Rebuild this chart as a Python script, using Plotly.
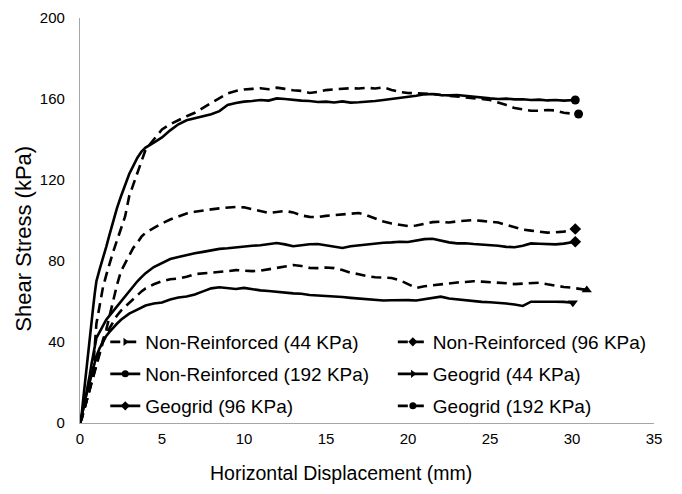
import plotly.graph_objects as go

# ---------------- data ----------------
x_grid = [0, 0.1, 0.2, 0.3, 0.4, 0.5, 0.6, 0.7, 0.8, 0.9, 1.0, 1.2, 1.4, 1.6, 1.8, 2.0,
          2.25, 2.5, 2.75, 3.0, 3.25, 3.5, 3.75, 4.0, 4.5, 5.0, 5.5, 6.0, 6.5, 7.0, 7.5,
          8.0, 8.5, 9.0, 9.5, 10.0, 10.5, 11.0, 11.5, 12.0, 12.5, 13.0, 13.5, 14.0, 14.5,
          15.0, 15.5, 16.0, 16.5, 17.0, 17.5, 18.0, 18.5, 19.0, 19.5, 20.0, 20.5, 21.0,
          21.5, 22.0, 22.5, 23.0, 23.5, 24.0, 24.5, 25.0, 25.5, 26.0, 26.5, 27.0, 27.5,
          28.0, 28.5, 29.0, 29.5, 30.0]

labels = ["Non-Reinforced (44 KPa)", "Non-Reinforced (96 KPa)", "Non-Reinforced (192 KPa)",
          "Geogrid (44 KPa)", "Geogrid (96 KPa)", "Geogrid (192 KPa)"]

x_title = "Horizontal Displacement (mm)"
y_title = "Shear Stress (kPa)"

end_x = [30.9, 30.2, 30.2, 30.05, 30.2, 30.4]

nr44 = [0, 2, 5, 8, 11, 14, 17, 20, 23, 26, 29, 35, 40, 44, 47, 50,
        53, 55.5, 57.5, 59.5, 61.5, 63.5, 65, 66.5, 68.5, 70, 71, 71.3, 72.2, 73.5, 73.8,
        74.2, 74.5, 75, 75.5, 75.3, 75, 75.2, 75.8, 76.5, 77.3, 78, 77.5, 76.6, 76.5,
        76.8, 76.5, 75.5, 74.2, 73.5, 72.5, 72, 71.8, 71.6, 70.5, 68.5, 66.7, 67.5,
        68, 68.7, 69, 69.4, 69.6, 70, 69.8, 69.6, 69.3, 69, 68.6, 68.8, 69.2,
        69.3, 68.5, 67.8, 67.2, 66.8, 65.7]

nr96 = [0, 2, 5, 8, 11, 14, 17, 20, 24, 27, 30, 36, 41, 46, 53, 60,
        68, 75, 79, 83, 86.5, 89, 92, 94, 96.5, 98.6, 100.5, 102, 103.5, 104.3, 105,
        105.5, 106, 106.3, 106.7, 106.5, 105.5, 104.5, 103.7, 104.2, 104.7, 104, 102.5, 101.8, 101.7,
        102.3, 102.7, 103, 103.5, 103.7, 102.5, 101, 99.5, 98.5, 97.8, 97.3, 97.5, 98.5,
        99.2, 99.4, 99, 99.6, 100, 100.2, 99.8, 99.4, 99, 97.8, 96.5, 95.5, 95,
        94.5, 94, 94.2, 94.5, 95.2, 95.8]

nr192 = [0, 4, 12, 20, 28, 35, 42, 50, 57, 64, 70, 76, 81, 87, 93, 99,
         106, 112, 118, 123, 127, 131, 134, 136, 138.5, 141, 144.5, 147.5, 149.5, 150.5, 151.5,
         152.5, 154, 157, 158, 158.7, 159, 159.5, 159.2, 160.3, 160, 159.5, 159.2, 159, 158.5,
         158.7, 158.3, 158.8, 158.2, 158.4, 158.6, 159, 159.5, 160, 160.3, 161, 161.6, 162.3,
         162.5, 162, 161.8, 162, 161.5, 161, 160.5, 160.3, 160, 160.2, 159.8, 159.9, 159.5,
         159.7, 159.3, 159.5, 159.2, 159.4, 159.5]

gg44 = [0, 3, 7, 11, 14, 18, 21, 24, 27, 30, 33, 37, 40, 43, 45, 47,
        49, 51, 52.5, 54, 55, 56, 57, 58, 59, 59.5, 61, 62, 62.5, 63.5, 65,
        66.5, 67, 66.5, 66.2, 66.7, 66, 65.5, 65.2, 64.7, 64.5, 64, 63.8, 63.2, 63,
        62.8, 62.5, 62.2, 61.8, 61.5, 61.2, 60.7, 60.5, 60.6, 60.7, 60.7, 60.5, 61.2,
        61.8, 62.4, 61.5, 61, 60.5, 60.2, 59.8, 59.6, 59.4, 59, 58.5, 57.8, 59.9,
        60, 60, 59.9, 59.8, 59.5, 59.4]

gg96 = [0, 3, 7, 11, 15, 19, 24, 29, 34, 39, 42, 45, 48, 51, 53, 55,
        58, 60.5, 62.5, 65, 68, 70, 72, 74, 77, 79, 81, 82, 83, 83.8, 84.5,
        85.4, 86, 86.3, 86.8, 87, 87.5, 87.8, 88.2, 88.9, 88.2, 87.3, 87.8, 88.3, 88.4,
        87.8, 87, 86.4, 87.3, 87.8, 88.2, 88.7, 89, 89.2, 89.5, 89.4, 90.2, 90.8,
        91, 90, 89.2, 88.7, 88.8, 88.4, 88.2, 88, 87.5, 87, 86.8, 87.5, 88.7,
        88.5, 88.4, 88.2, 88.6, 89.2, 89.5]

gg192 = [0, 2, 5, 8, 10, 13, 17, 21, 27, 38, 49, 58, 67, 73, 79, 84,
         90, 96, 102, 112, 118, 124, 130, 135, 140, 145, 147.5, 149.6, 151.5, 153.2, 155.5,
         158, 160.5, 162.8, 164, 164.7, 165, 165.3, 164.8, 165.6, 165, 164.3, 164, 163, 163.5,
         164.4, 164.8, 165.2, 165.3, 165.2, 165.5, 165.2, 165.7, 164.5, 163.5, 163, 162.8, 162.8,
         162.5, 162, 161.6, 161.5, 161, 160.5, 160, 159.5, 158.3, 157, 155.5, 154.9, 154.2,
         154.2, 154.6, 154.3, 153.2, 152.8, 152.6]

series = [nr44, nr96, nr192, gg44, gg96, gg192]
dashes = ["10px,6px", "10px,6px", "solid", "solid", "solid", "10px,6px"]
end_symbols = ["triangle-up", "diamond", "circle", "triangle-down", "diamond", "circle"]
legend_symbols = ["triangle-right", "diamond", "circle", "triangle-right", "diamond", "circle"]

FONT = "Liberation Sans, Arial, sans-serif"

fig = go.Figure()

for i, ys in enumerate(series):
    xs = x_grid + [end_x[i]]
    fig.add_trace(go.Scatter(
        x=xs, y=ys, mode="lines", showlegend=False,
        line=dict(color="black", width=2.6, dash=dashes[i]),
        hoverinfo="skip"))
    fig.add_trace(go.Scatter(
        x=[xs[-1]], y=[ys[-1]], mode="markers", showlegend=False,
        marker=dict(symbol=end_symbols[i], size=9, color="black"),
        hoverinfo="skip"))

# legend entries: two columns, three rows (row-major order)
legend_names = ["legend", "legend2", "legend3", "legend4", "legend5", "legend6"]
for i in range(6):
    fig.add_trace(go.Scatter(
        x=[None], y=[None], mode="lines+markers", name=labels[i],
        legend=legend_names[i],
        line=dict(color="black", width=2.6, dash=dashes[i]),
        marker=dict(symbol=legend_symbols[i], size=7, color="black")))

row_y = [0.2, 0.121, 0.042]
col_x = [0.044, 0.545]
legend_layout = {}
for i in range(6):
    r, c = divmod(i, 2)
    legend_layout[legend_names[i]] = dict(
        x=col_x[c], y=row_y[r], xanchor="left", yanchor="middle",
        bgcolor="rgba(0,0,0,0)", borderwidth=0,
        font=dict(family=FONT, size=19, color="black"))

# the page body adds an 8 px offset, so margins are reduced accordingly
fig.update_layout(
    width=682, height=494,
    margin=dict(l=72, r=36, t=10, b=79),
    paper_bgcolor="white", plot_bgcolor="white",
    font=dict(family=FONT, color="black"),
    **legend_layout,
    annotations=[
        dict(text=x_title, xref="paper", yref="paper", x=0.4547, y=-0.123,
             xanchor="center", yanchor="middle", showarrow=False,
             font=dict(family=FONT, size=19.5, color="black")),
        dict(text=y_title, xref="paper", yref="paper", x=-0.0976, y=0.455,
             xanchor="center", yanchor="middle", showarrow=False, textangle=-90,
             font=dict(family=FONT, size=22, color="black")),
    ],
)

fig.update_xaxes(
    range=[0, 35], dtick=5, tick0=0, showgrid=False, zeroline=False,
    showline=True, linecolor="#a6a6a6", linewidth=1.3,
    ticks="", ticklabelstandoff=2, automargin=False,
    tickfont=dict(family=FONT, size=15, color="black"))

fig.update_yaxes(
    range=[0, 200], dtick=40, tick0=0, showgrid=False, zeroline=False,
    showline=True, linecolor="#a6a6a6", linewidth=1.3,
    ticks="", ticklabelstandoff=11, automargin=False,
    tickfont=dict(family=FONT, size=15, color="black"))

fig.write_html("out.html")
